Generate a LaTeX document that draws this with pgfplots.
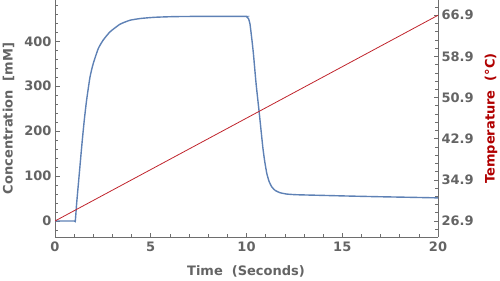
\documentclass[border=0pt]{standalone}
\usepackage{pgfplots}
\pgfplotsset{compat=1.18}
\usepackage{fontspec}
\setmainfont{DejaVu Sans}
\definecolor{mblue}{HTML}{5E81B5}
\definecolor{mred}{HTML}{C0242C}
\definecolor{tlab}{HTML}{B00000}
\definecolor{tgray}{HTML}{646464}
\definecolor{agray}{HTML}{6E6E6E}
\newcommand{\ff}{\fontsize{13bp}{15bp}\selectfont\bfseries}
\pgfplotsset{
  common/.style={
    scale only axis, width=383bp, height=237bp,
    at={(55bp,44bp)}, anchor=south west,
    xmin=0, xmax=20,
    /pgf/number format/assume math mode=true,
    tick label style={font=\ff, text=tgray},
    label style={font=\ff},
    axis line style={agray, line width=0.6bp},
    tick style={agray, line width=0.6bp},
    major tick length=4.5bp, minor tick length=2.8bp,
    tick align=inside,
  }
}
\begin{document}
\begin{tikzpicture}
\useasboundingbox (0,0) rectangle (500bp,281bp);
\begin{axis}[common,
  axis x line*=bottom, axis y line*=left,
  ymin=-35.6, ymax=492,
  xtick={0,5,10,15,20}, minor xtick={0,1,...,20},
  ytick={0,100,200,300,400}, minor ytick={-20,0,...,480},
  xticklabel style={yshift=-1.5bp},
  xlabel={Time\ \ (Seconds)},
  ylabel={Concentration\ \ [mM]},
  xlabel style={text=tgray, at={(axis description cs:0.4987,-0.1435)}, anchor=center},
  ylabel style={text=tgray, at={(axis description cs:-0.1214,0.5)}, anchor=center},
]
\addplot[mblue, line width=1.4bp, smooth, tension=0.3] coordinates {
(0,0) (1.0,0) (1.06,0) (1.13,39) (1.27,106) (1.41,173) (1.53,225) (1.65,269)
(1.83,321) (2.0,351) (2.26,384) (2.52,403) (2.87,421) (3.39,438) (3.92,447)
(4.5,451) (5.2,453.5) (6.2,455) (7.5,455.5) (9.9,455.5) (10.0,455)
(10.1,451) (10.18,439) (10.27,408) (10.36,373) (10.5,306) (10.67,239)
(10.85,165) (10.95,133) (11.06,106) (11.18,88) (11.32,76) (11.5,68)
(11.75,63) (12.1,60) (12.62,58.5) (14,57) (15.4,55.5) (17,54) (18.5,52.8) (20,51.5)
};
\end{axis}
\begin{axis}[common,
  axis x line=none, axis y line*=right,
  ymin=23.79, ymax=69.87,
  ytick={26.9,34.9,42.9,50.9,58.9,66.9},
  yticklabels={26.9,34.9,42.9,50.9,58.9,66.9},
  minor ytick={25.3,28.5,30.1,31.7,33.3,36.5,38.1,39.7,41.3,44.5,46.1,47.7,49.3,52.5,54.1,55.7,57.3,60.5,62.1,63.7,65.3,68.5},
  ylabel={Temperature\ \ (°C)},
  ylabel style={text=tlab, at={(axis description cs:1.1384,0.5)}, anchor=center},
]
\addplot[mred, line width=0.8bp] coordinates {(0,26.9) (20,66.9)};
\end{axis}
\end{tikzpicture}
\end{document}
